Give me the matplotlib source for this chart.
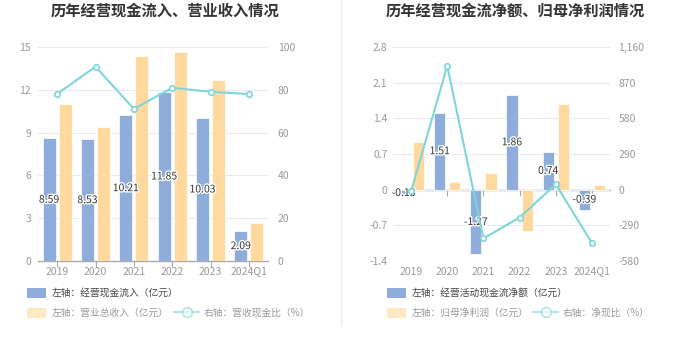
import numpy as np
import matplotlib
matplotlib.use("Agg")
import matplotlib.pyplot as plt
import matplotlib.patheffects as pe
from matplotlib.patches import Patch
from matplotlib.lines import Line2D

plt.rcParams["font.family"] = ["Noto Sans CJK SC", "DejaVu Sans"]

years = ["2019", "2020", "2021", "2022", "2023", "2024Q1"]

# 左图：经营现金流入 / 营业总收入 / 营收现金比
cash_in = [8.59, 8.53, 10.21, 11.85, 10.03, 2.09]
revenue = [11.00, 9.39, 14.37, 14.65, 12.68, 2.68]
cash_rev_ratio = [78.1, 90.8, 71.1, 80.9, 79.1, 78.0]

# 右图：经营活动现金流净额 / 归母净利润 / 净现比
net_cash = [-0.13, 1.51, -1.27, 1.86, 0.74, -0.39]
net_profit = [0.94, 0.15, 0.32, -0.82, 1.68, 0.09]
net_cash_ratio = [-13.8, 1006.7, -396.9, -226.8, 44.0, -433.3]

left_ticks = [0, 3, 6, 9, 12, 15]
left_ticks_r = [0, 20, 40, 60, 80, 100]
right_ticks = [-1.4, -0.7, 0, 0.7, 1.4, 2.1, 2.8]
right_ticks_r = [-580, -290, 0, 290, 580, 870, 1160]

BLUE = "#8FADDB"
ORANGE = "#FFD99D"
CYAN = "#7ED5DA"
GRID = "#E6E9F2"
TICK = "#999999"
W, H = 680, 349

fig = plt.figure(figsize=(6.8, 3.49), dpi=100)


def make_axes(x0, x1):
    ax = fig.add_axes([x0 / W, 1 - 261 / H, (x1 - x0) / W, 214 / H])
    ax2 = ax.twinx()
    for a in (ax, ax2):
        for s in a.spines.values():
            s.set_visible(False)
        a.tick_params(axis="y", length=0, labelsize=7.5, labelcolor=TICK)
    return ax, ax2


def draw_bars(ax, blue, orange, width):
    x = np.arange(len(years))
    ax.bar(x - 0.21, blue, width, color=BLUE, edgecolor="white", linewidth=0.5, zorder=2)
    ax.bar(x + 0.21, orange, width, color=ORANGE, edgecolor="white", linewidth=0.5, zorder=2)
    for xi, v in zip(x, blue):
        ax.text(xi - 0.21, v / 2, f"{v:.2f}", ha="center", va="center", fontsize=7.5,
                color="#333333", zorder=5,
                path_effects=[pe.withStroke(linewidth=2, foreground="white")])
    ax.set_xlim(-0.5, len(years) - 0.5)
    ax.set_xticks(x)
    ax.set_xticklabels(years)
    ax.tick_params(axis="x", length=0, labelsize=7.5, labelcolor=TICK, pad=4)
    ax.yaxis.grid(True, color=GRID, linewidth=0.8, zorder=0)
    ax.set_axisbelow(True)
    # 零轴线与刻度
    sec = ax.secondary_xaxis(0, transform=ax.transData)
    sec.set_xticks(x)
    sec.set_xticklabels([])
    sec.tick_params(axis="x", length=4, width=0.8, color="#AAAAAA")
    sec.spines["bottom"].set_color("#AAAAAA")
    sec.spines["bottom"].set_linewidth(1)
    for k in ("top", "left", "right"):
        sec.spines[k].set_visible(False)


def draw_line(ax2, vals):
    ax2.plot(np.arange(len(years)), vals, color=CYAN, linewidth=1.5, marker="o",
             markersize=4, markerfacecolor="white", markeredgecolor=CYAN,
             markeredgewidth=1.2, zorder=4)


# ---- 左图 ----
axL, axL2 = make_axes(38, 268)
draw_bars(axL, cash_in, revenue, 0.34)
axL.set_ylim(0, 15)
axL.set_yticks(left_ticks)
axL.tick_params(axis="y", pad=5)
axL2.set_ylim(0, 100)
axL2.set_yticks(left_ticks_r)
axL2.tick_params(axis="y", pad=7)
draw_line(axL2, cash_rev_ratio)

# ---- 右图 ----
axR, axR2 = make_axes(393, 610)
draw_bars(axR, net_cash, net_profit, 0.31)
axR.set_ylim(-1.4, 2.8)
axR.set_yticks(right_ticks)
axR.set_yticklabels([f"{t:g}" for t in right_ticks])
axR.tick_params(axis="y", pad=4)
axR2.set_ylim(-580, 1160)
axR2.set_yticks(right_ticks_r)
axR2.set_yticklabels([f"{t:,}" for t in right_ticks_r])
axR2.tick_params(axis="y", pad=6)
draw_line(axR2, net_cash_ratio)

# 标题
fig.text(165 / W, 1 - 11 / H, "历年经营现金流入、营业收入情况", ha="center", va="center",
         fontsize=11, fontweight="bold", color="#333333")
fig.text(515 / W, 1 - 11 / H, "历年经营现金流净额、归母净利润情况", ha="center", va="center",
         fontsize=11, fontweight="bold", color="#333333")

# 分隔线
fig.add_artist(Line2D([341 / W, 341 / W], [1 - 325 / H, 1.0], color="#EEEEEE", linewidth=1))


def legend_item(handle, label, x, y, color, hl=2.0):
    lg = fig.legend(handles=[handle], labels=[label], loc="center left",
                    bbox_to_anchor=(x / W, 1 - y / H), frameon=False, fontsize=7,
                    handlelength=hl, handleheight=1.15, borderpad=0, borderaxespad=0,
                    handletextpad=0.5, labelcolor=color)
    return lg


def line_handle():
    return Line2D([], [], color=CYAN, alpha=0.6, linewidth=1.5, marker="o", markersize=7,
                  markerfacecolor="white", markeredgecolor=CYAN, markeredgewidth=1.2)


legend_item(Patch(facecolor=BLUE, edgecolor="none"), "左轴：经营现金流入（亿元）", 27, 293, "#444444")
legend_item(Patch(facecolor=ORANGE, edgecolor="none", alpha=0.6), "左轴：营业总收入（亿元）", 27, 313, "#999999")
legend_item(line_handle(), "右轴：营收现金比（%）", 174, 313, "#999999", hl=2.6)

legend_item(Patch(facecolor=BLUE, edgecolor="none"), "左轴：经营活动现金流净额（亿元）", 387, 293, "#444444")
legend_item(Patch(facecolor=ORANGE, edgecolor="none", alpha=0.6), "左轴：归母净利润（亿元）", 387, 313, "#999999")
legend_item(line_handle(), "右轴：净现比（%）", 533, 313, "#999999", hl=2.6)

fig.savefig("out.png", dpi=100, facecolor="white")
